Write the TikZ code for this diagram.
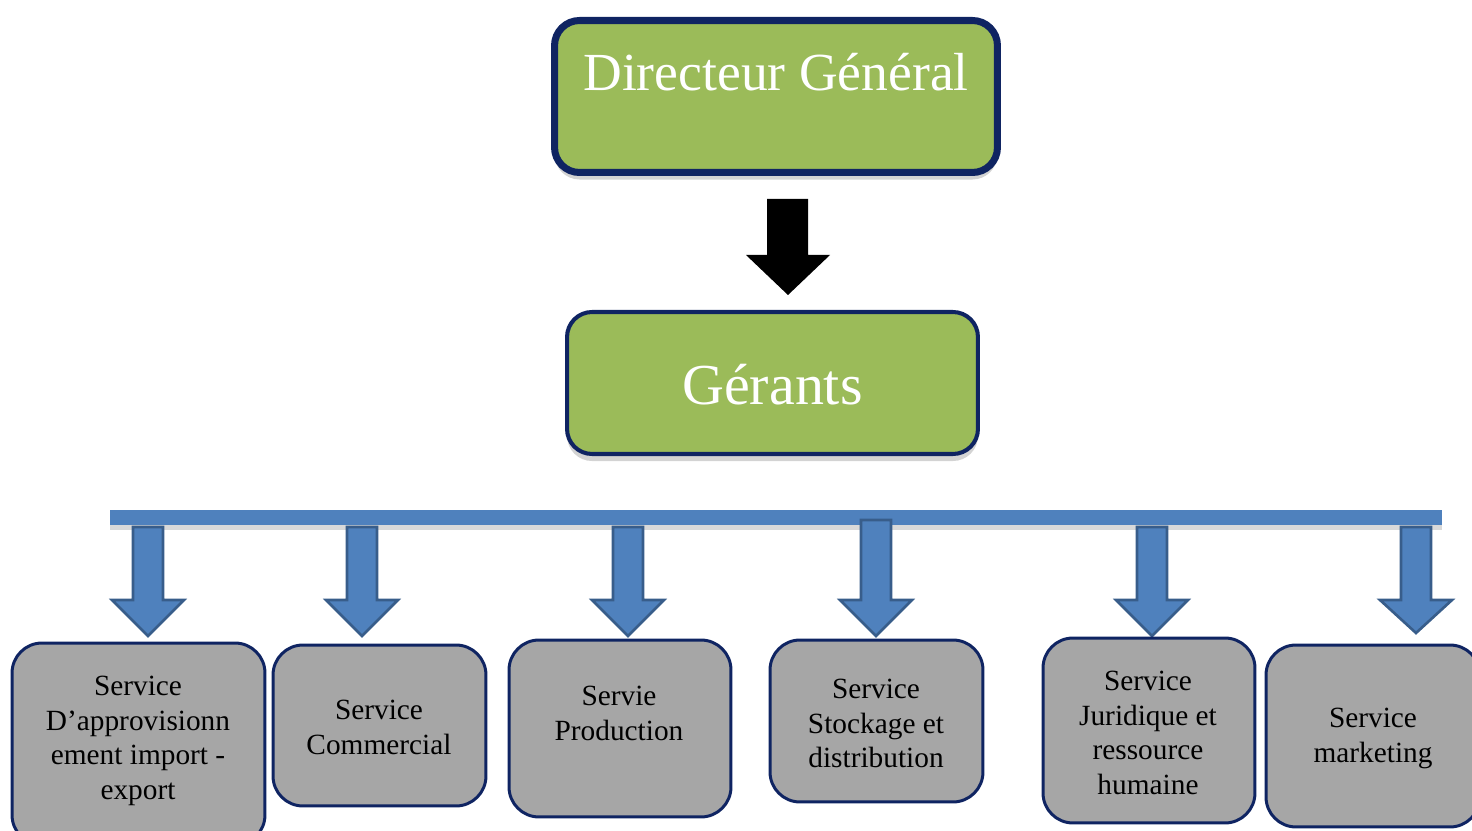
\documentclass[tikz,border=0pt]{standalone}
\usepackage{fontspec}
\setmainfont{Liberation Serif}
\usetikzlibrary{shadows}

\definecolor{navy}{HTML}{0F2462}
\definecolor{leaf}{HTML}{9BBB59}
\definecolor{stone}{HTML}{A6A6A6}
\definecolor{steel}{HTML}{4F81BD}
\definecolor{steeldark}{HTML}{385D8A}

\tikzset{
  topbox/.style = {draw=navy, fill=leaf, rounded corners=0.5cm,
    drop shadow={shadow xshift=0pt, shadow yshift=-4pt, opacity=0.35}},
  servbox/.style = {draw=navy, line width=1.7pt, fill=stone, rounded corners=0.6cm},
  bigtxt/.style = {text=white, font=\fontsize{33}{40}\selectfont},
  servtxt/.style = {align=center, font=\fontsize{16.7}{19.6}\selectfont},
  bluearrow/.style = {draw=steeldark, line width=1.5pt, fill=steel, line join=miter}
}

\begin{document}
\begin{tikzpicture}[x=0.02cm, y=-0.02cm]
  \useasboundingbox (0,0) rectangle (1472,831);

  % top of the chart
  \node[topbox, line width=4pt, minimum width=8.86cm, minimum height=3.04cm] (dg) at (776,96.5) {};
  \node[bigtxt, font=\fontsize{30.5}{36}\selectfont] (dgtxt) at (776,72) {Directeur Général};

  \fill (767,199) -- (808,199) -- (808,255) -- (830,255) -- (788,295) -- (746,255) -- (767,255) -- cycle;

  \node[topbox, line width=2.3pt, minimum width=8.22cm, minimum height=2.84cm] (gerants) at (772.5,383) {};
  \node[bigtxt] (gtxt) at (772.5,385) {Gérants};

  % blue bar and the arrows below it
  \node[fill=steel, inner sep=0pt, minimum width=26.64cm, minimum height=0.3cm,
    drop shadow={shadow xshift=0pt, shadow yshift=-3pt, opacity=0.3}] (bar) at (776,517.5) {};
  \foreach \x/\t/\p in {148/527/636, 362/527/636, 628/527/636, 876/520/636, 1152/527/636, 1416/527/633}
    \draw[bluearrow] (\x-15,\t) -- (\x+15,\t) -- (\x+15,600) -- (\x+36,600) -- (\x,\p)
      -- (\x-36,600) -- (\x-15,600) -- cycle;

  % services
  \node[servbox, minimum width=5.06cm, minimum height=4.04cm] (s1) at (138.5,744) {};
  \node[servtxt] (s1txt) at (138,741) {Service\\D’approvisionn\\ement import -\\export};

  \node[servbox, minimum width=4.26cm, minimum height=3.22cm] (s2) at (379.5,725.5) {};
  \node[servtxt] (s2txt) at (379,727.5) {Service\\Commercial};

  \node[servbox, minimum width=4.44cm, minimum height=3.54cm] (s3) at (620,728.5) {};
  \node[servtxt] (s3txt) at (619,713.5) {Servie\\Production};

  \node[servbox, minimum width=4.26cm, minimum height=3.24cm] (s4) at (876.5,721) {};
  \node[servtxt] (s4txt) at (876,723.5) {Service\\Stockage et\\distribution};

  \node[servbox, minimum width=4.24cm, minimum height=3.70cm] (s5) at (1149,730.5) {};
  \node[servtxt] (s5txt) at (1148,733) {Service\\Juridique et\\ressource\\humaine};

  \node[servbox, minimum width=4.28cm, minimum height=3.64cm] (s6) at (1373,736) {};
  \node[servtxt] (s6txt) at (1373,738.5) {Service\\marketing};
\end{tikzpicture}
\end{document}
